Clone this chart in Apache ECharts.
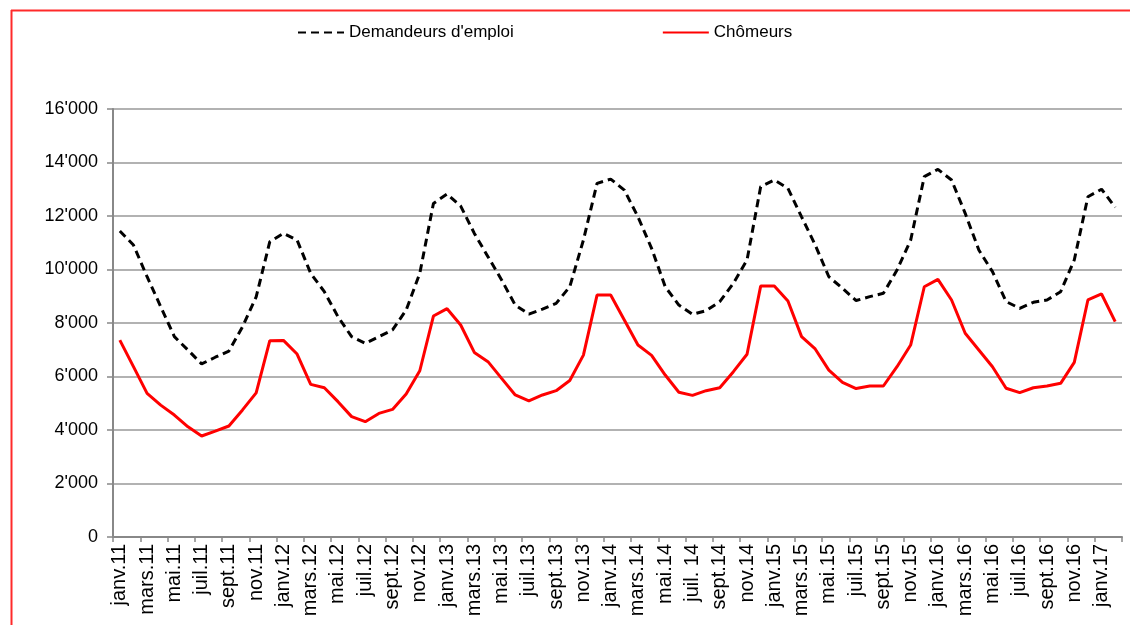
<!DOCTYPE html>
<html>
<head>
<meta charset="utf-8">
<script src="https://cdn.jsdelivr.net/npm/echarts@6/dist/echarts.min.js"></script>
<style>
  html, body { margin: 0; padding: 0; background: #fff; }
  #chart { width: 1130px; height: 625px; }
</style>
</head>
<body>
<div id="chart"></div>
<script>
// mois (janv.11 -> févr.17)
var mois = [
  'janv.11','févr.11','mars.11','avr.11','mai.11','juin.11','juil.11','août.11','sept.11','oct.11','nov.11','déc.11',
  'janv.12','févr.12','mars.12','avr.12','mai.12','juin.12','juil.12','août.12','sept.12','oct.12','nov.12','déc.12',
  'janv.13','févr.13','mars.13','avr.13','mai.13','juin.13','juil.13','août.13','sept.13','oct.13','nov.13','déc.13',
  'janv.14','févr.14','mars.14','avr.14','mai.14','juin.14','juil. 14','août.14','sept.14','oct.14','nov.14','déc.14',
  'janv.15','févr.15','mars.15','avr.15','mai.15','juin.15','juil.15','août.15','sept.15','oct.15','nov.15','déc.15',
  'janv.16','févr.16','mars.16','avr.16','mai.16','juin.16','juil.16','août.16','sept.16','oct.16','nov.16','déc.16',
  'janv.17','févr.17'
];
// Demandeurs d'emploi
var demandeurs = [
  11440, 10915, 9730, 8610, 7490, 6990, 6470, 6720, 6950, 7860, 8980, 11040,
  11350, 11100, 9855, 9170, 8235, 7490, 7240, 7490, 7740, 8485, 9855, 12470,
  12820, 12370, 11350, 10480, 9610, 8670, 8335, 8520, 8735, 9355, 11100, 13220,
  13380, 12970, 11970, 10790, 9355, 8670, 8325, 8460, 8800, 9485, 10355, 13095,
  13345, 13035, 11970, 10915, 9730, 9295, 8840, 8985, 9110, 9980, 11100, 13470,
  13745, 13345, 12100, 10730, 9920, 8800, 8550, 8775, 8860, 9170, 10355, 12720,
  13000, 12325
];
// Chômeurs
var chomeurs = [
  7360, 6370, 5370, 4930, 4560, 4120, 3775, 3960, 4150, 4750, 5390, 7340,
  7350, 6840, 5705, 5580, 5060, 4500, 4310, 4620, 4770, 5345, 6215, 8260,
  8535, 7925, 6900, 6555, 5930, 5310, 5085, 5310, 5470, 5850, 6800, 9045,
  9045, 8110, 7175, 6790, 6055, 5410, 5295, 5470, 5580, 6180, 6830, 9380,
  9380, 8820, 7490, 7030, 6240, 5780, 5550, 5645, 5645, 6365, 7175, 9355,
  9630, 8860, 7615, 6990, 6365, 5560, 5395, 5580, 5645, 5745, 6530, 8860,
  9085, 8050
];

var myChart = echarts.init(document.getElementById('chart'));

// 16000 -> 16'000
function fmtMille(v){
  var s = String(v);
  return s.replace(/\B(?=(\d{3})+(?!\d))/g, "'");
}

var option = {
  animation: false,
  textStyle: { fontFamily: 'Liberation Sans, Arial, sans-serif', color: '#000' },
  graphic: [
    { type: 'line', shape: { x1: 11, y1: 10.5, x2: 1130, y2: 10.5 }, style: { stroke: '#ff2a2a', lineWidth: 2 } },
    { type: 'line', shape: { x1: 11.5, y1: 10, x2: 11.5, y2: 625 }, style: { stroke: '#ff2a2a', lineWidth: 2 } }
  ],
  legend: {
    left: 297,
    top: 24,
    padding: 0,
    itemWidth: 46,
    itemHeight: 14,
    itemGap: 148,
    itemStyle: { opacity: 0 },
    textStyle: { fontSize: 17, color: '#000' },
    data: ["Demandeurs d'emploi", 'Chômeurs']
  },
  grid: { left: 113, right: 8, top: 109, bottom: 88, containLabel: false },
  xAxis: {
    type: 'category',
    data: mois,
    boundaryGap: true,
    axisLine: { lineStyle: { color: '#888', width: 2 } },
    axisTick: { show: true, length: 5, lineStyle: { color: '#888', width: 1.5 } },
    axisLabel: { rotate: 90, interval: 1, fontSize: 20, color: '#000', margin: 7 },
    splitLine: { show: false }
  },
  yAxis: {
    type: 'value',
    min: 0,
    max: 16000,
    interval: 2000,
    axisLine: { show: true, lineStyle: { color: '#888', width: 2 } },
    axisTick: { show: true, length: 6, lineStyle: { color: '#888', width: 1.5 } },
    axisLabel: { fontSize: 18, color: '#000', margin: 15, formatter: fmtMille },
    splitLine: { lineStyle: { color: '#999', width: 1.5 } }
  },
  series: [
    {
      name: "Demandeurs d'emploi",
      type: 'line',
      data: demandeurs,
      symbol: 'none',
      lineStyle: { color: '#000', width: 3, type: [8, 5] },
      itemStyle: { color: '#000' }
    },
    {
      name: 'Chômeurs',
      type: 'line',
      data: chomeurs,
      symbol: 'none',
      lineStyle: { color: '#ff0000', width: 3 },
      itemStyle: { color: '#ff0000' }
    }
  ]
};
myChart.setOption(option);
</script>
</body>
</html>
